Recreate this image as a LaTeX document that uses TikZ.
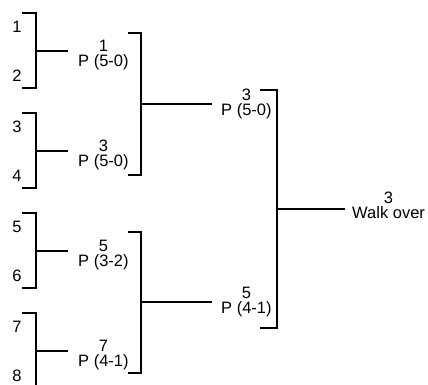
\documentclass[tikz,border=0pt]{standalone}
\usepackage{fontspec}
\setmainfont{Liberation Sans}
\usetikzlibrary{positioning}
\tikzset{wire/.style={line width=1.8pt},
  seed/.style={font=\fontsize{16.5}{16.5}\selectfont,inner sep=0pt},
  win/.style={font=\fontsize{16.5}{15}\selectfont,align=center,inner sep=0pt}}

\begin{document}
\begin{tikzpicture}[x=1pt,y=-1pt]
\useasboundingbox (0,0) rectangle (428,384);

% ---- first round: pairs of seeds ----
\foreach \n/\y/\p/\q/\w/\score in {1/13/1/2/1/5-0,2/113/3/4/3/5-0,3/213/5/6/5/3-2,4/313/7/8/7/4-1}{
  \coordinate (t\n) at (22,\y);
  \coordinate (b\n) at (22,\y+75);
  \coordinate (m\n) at (36,\y+38);
  \node[seed] (e\p) at (17,\y+14) {\p};
  \node[seed] (e\q) at (17,\y+63) {\q};
  \draw[wire] (t\n) -| (m\n) |- (b\n);
  \draw[wire] (m\n) -- ++(32,0) coordinate (s\n);
  \node[win,right=10pt of s\n,yshift=-4pt] (w\n) {\w\\P (\score)};
}

% ---- second round ----
\coordinate (u1) at (128,33);
\coordinate (v1) at (128,175);
\coordinate (n1) at (141,104);
\draw[wire] (u1) -| (n1) |- (v1);
\draw[wire] (n1) -- ++(71,0) coordinate (r1);
\node[win,right=9pt of r1] (x1) {3\\P (5-0)};

\coordinate (u2) at (128,232);
\coordinate (v2) at (128,373);
\coordinate (n2) at (141,302);
\draw[wire] (u2) -| (n2) |- (v2);
\draw[wire] (n2) -- ++(71,0) coordinate (r2);
\node[win,right=9pt of r2] (x2) {5\\P (4-1)};

% ---- final ----
\coordinate (uf) at (260,90);
\coordinate (vf) at (260,328);
\coordinate (nf) at (277,209);
\draw[wire] (uf) -| (nf) |- (vf);
\draw[wire] (nf) -- ++(68,0) coordinate (rf);
\node[win,right=7pt of rf,yshift=4pt] (champ) {3\\Walk over};

\end{tikzpicture}
\end{document}
